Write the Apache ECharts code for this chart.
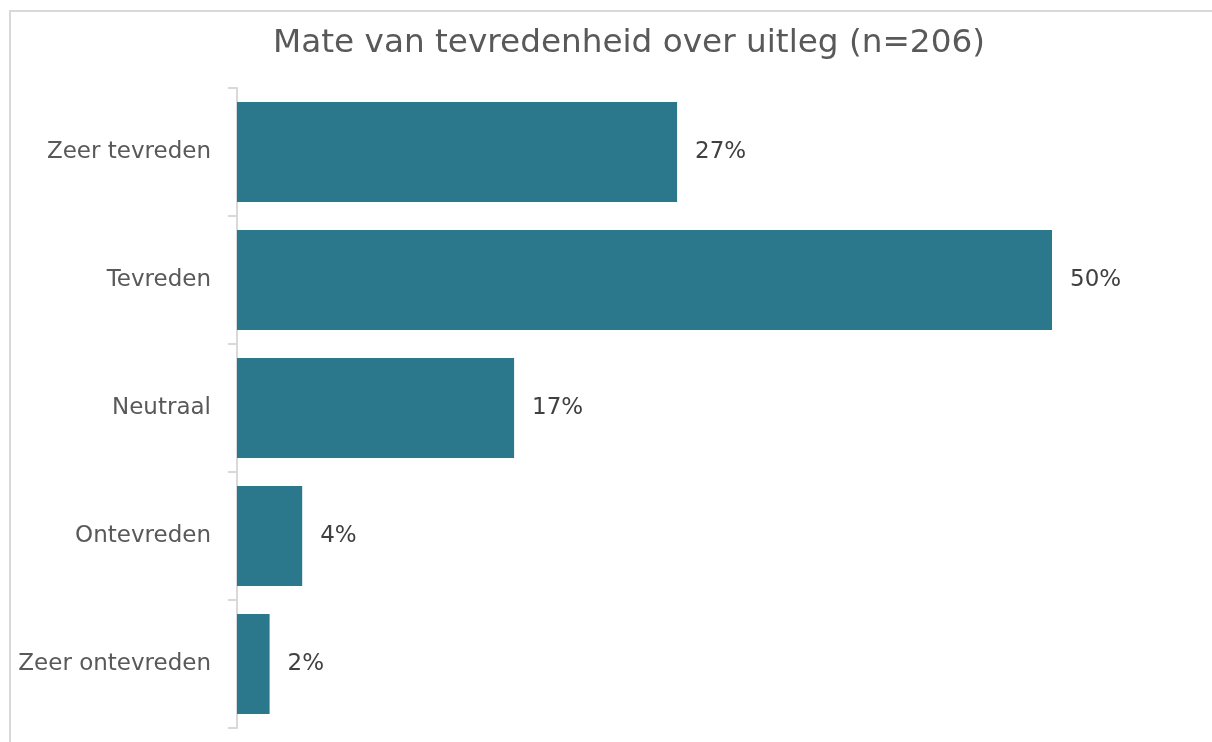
<!DOCTYPE html>
<html>
<head>
<meta charset="utf-8">
<script src="https://cdn.jsdelivr.net/npm/echarts@6/dist/echarts.min.js"></script>
<style>
  html, body { margin: 0; padding: 0; background: #fff; }
  #frame { position: absolute; left: 9px; top: 10px; width: 1300px; height: 800px; border: 2px solid #d9d9d9; box-sizing: border-box; }
  #chart { position: absolute; left: 0; top: 0; width: 1212px; height: 742px; }
</style>
</head>
<body>
<div id="frame"></div>
<div id="chart"></div>
<script>
const titleText = 'Mate van tevredenheid over uitleg (n=206)';
const categories = ['Zeer tevreden', 'Tevreden', 'Neutraal', 'Ontevreden', 'Zeer ontevreden'];
const percentages = [27, 50, 17, 4, 2];

const chart = echarts.init(document.getElementById('chart'), null, { renderer: 'canvas' });
const font = 'Tahoma, "DejaVu Sans", Verdana, sans-serif';

chart.setOption({
  backgroundColor: 'transparent',
  animation: false,
  title: {
    text: titleText,
    left: 268,
    top: 22,
    textStyle: { fontFamily: font, fontSize: 32.7, fontWeight: 'normal', color: '#595959' }
  },
  grid: { left: 237, top: 88, width: 815, height: 640, containLabel: false },
  xAxis: {
    type: 'value',
    min: 0,
    max: 50,
    show: false
  },
  yAxis: {
    type: 'category',
    data: categories,
    inverse: true,
    axisLine: { show: true, lineStyle: { color: '#d9d9d9', width: 2 } },
    axisTick: { show: true, length: 9, lineStyle: { color: '#d9d9d9', width: 2 } },
    axisLabel: { margin: 26, fontFamily: font, fontSize: 23, color: '#595959', padding: [4, 0, 0, 0] },
    splitLine: { show: false }
  },
  series: [{
    type: 'bar',
    data: percentages,
    barCategoryGap: '22%',
    itemStyle: { color: '#2b778b' },
    label: {
      show: true,
      position: 'right',
      distance: 18,
      formatter: p => p.value + '%',
      fontFamily: font,
      fontSize: 23,
      color: '#404040',
      padding: [4, 0, 0, 0]
    }
  }]
});
</script>
</body>
</html>
